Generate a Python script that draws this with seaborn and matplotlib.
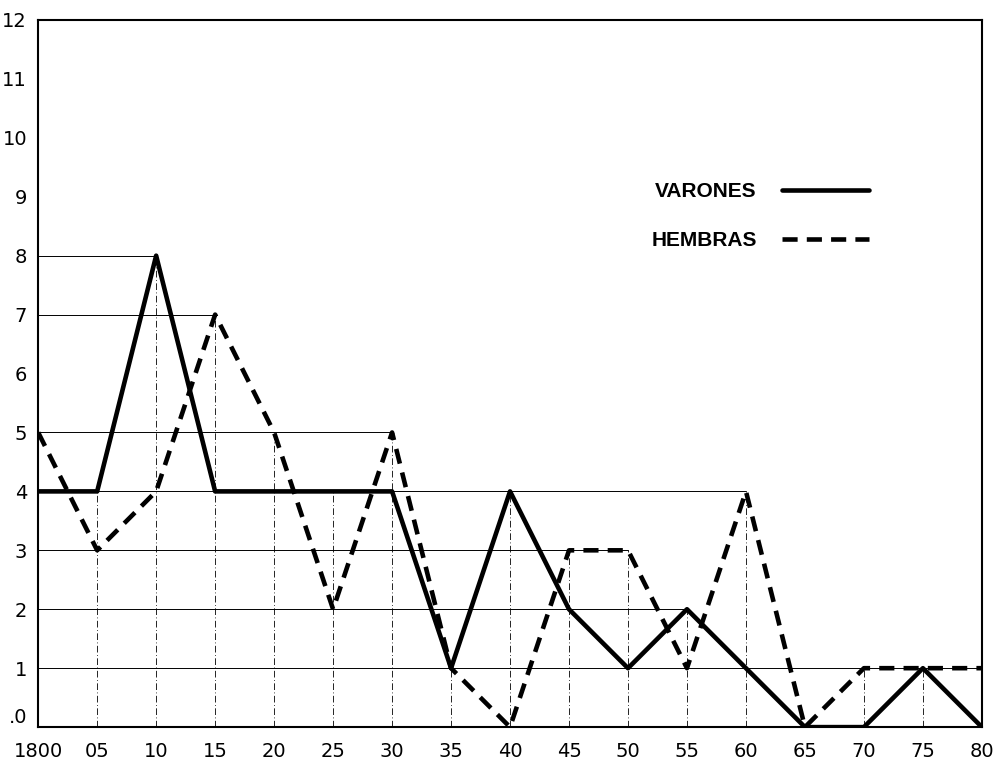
import pandas as pd
import numpy as np
import matplotlib.pyplot as plt
import seaborn as sns

# años (1800-1880, cada 5 años)
years = [1800, 1805, 1810, 1815, 1820, 1825, 1830, 1835, 1840,
         1845, 1850, 1855, 1860, 1865, 1870, 1875, 1880]
year_labels = ['1800', '05', '10', '15', '20', '25', '30', '35', '40',
               '45', '50', '55', '60', '65', '70', '75', '80']
varones = [4, 4, 8, 4, 4, 4, 4, 1, 4, 2, 1, 2, 1, 0, 0, 1, 0]
hembras = [5, 3, 4, 7, 5, 2, 5, 1, 0, 3, 3, 1, 4, 0, 1, 1, 1]
y_ticks = list(range(0, 13))
y_labels = ['.0'] + [str(i) for i in range(1, 13)]

df = pd.DataFrame({'año': years * 2,
                   'valor': varones + hembras,
                   'sexo': ['VARONES'] * len(years) + ['HEMBRAS'] * len(years)})

sns.set_style('white')
plt.rcParams['font.family'] = ['DejaVu Sans']
plt.rcParams['text.color'] = 'black'
plt.rcParams['xtick.color'] = 'black'
plt.rcParams['ytick.color'] = 'black'

fig = plt.figure(figsize=(10.05, 7.67), dpi=100)
ax = fig.add_axes([0.038, 0.052, 0.939, 0.922])

# líneas de referencia finas: verticales hasta el máximo, horizontales hasta el último valor igual
top = np.maximum(varones, hembras)
for x, t in zip(years, top):
    ax.plot([x, x], [0, t], color='black', lw=0.6, ls=(0, (8, 3, 1, 3)), zorder=1)
for lvl in range(1, 13):
    xs = [x for x, a, b in zip(years, varones, hembras) if a == lvl or b == lvl]
    if xs:
        ax.plot([years[0], max(xs)], [lvl, lvl], color='black', lw=0.7, zorder=1)

sns.lineplot(data=df, x='año', y='valor', style='sexo',
             style_order=['VARONES', 'HEMBRAS'],
             dashes={'VARONES': '', 'HEMBRAS': (3.3, 2)},
             color='black', lw=3.3, ax=ax, zorder=3)

ax.set_xlim(years[0], years[-1])
ax.set_ylim(0, 12)
ax.set_xticks(years)
ax.set_xticklabels(year_labels, fontsize=14)
ax.set_yticks(y_ticks)
ax.set_yticklabels(y_labels, fontsize=14)
ax.tick_params(length=0)
ax.tick_params(axis='x', pad=11)
ax.tick_params(axis='y', pad=8)
ax.get_yticklabels()[0].set_verticalalignment('bottom')
ax.set_xlabel('')
ax.set_ylabel('')
for s in ax.spines.values():
    s.set_color('black')
    s.set_linewidth(1.5)

leg = ax.legend(loc='upper left', bbox_to_anchor=(0.63, 0.797), frameon=False,
                markerfirst=False, handlelength=4.2, handletextpad=1.2,
                labelspacing=1.45,
                prop={'family': 'Liberation Sans', 'weight': 'bold', 'size': 15})
for h in leg.get_lines():
    h.set_linewidth(3.3)

fig.savefig('out.png', dpi=100)
